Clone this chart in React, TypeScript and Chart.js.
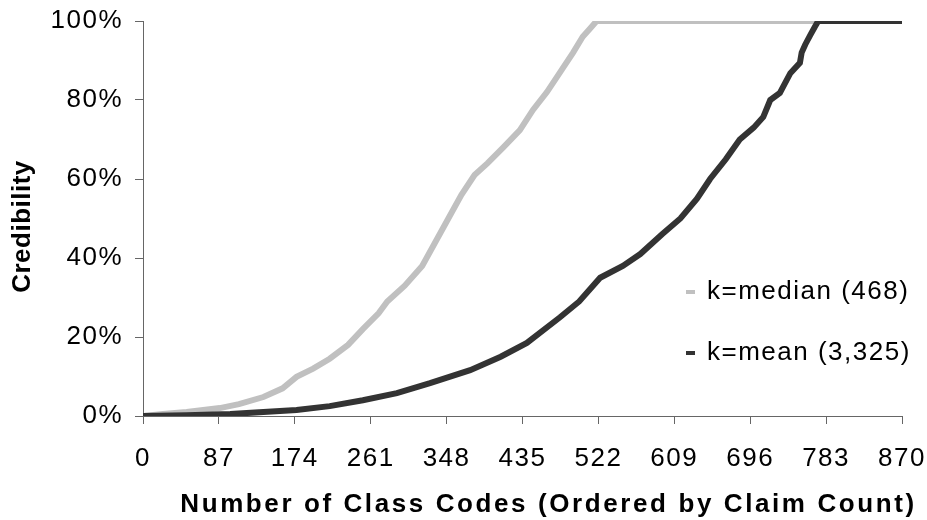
import React, { useEffect, useRef } from "react";
import { Chart, registerables } from "chart.js";

Chart.register(...registerables);

const seriesLabels = ["k=median (468)", "k=mean (3,325)"];
const seriesColors = ["#c0c0c0", "#333333"];

const medianX = [0, 23, 50, 88, 110, 138, 160, 176, 195, 214, 235, 252, 270, 280, 300, 320, 335, 350, 365, 380, 395, 413, 432, 447, 463, 478, 493, 504, 512, 520, 870];
const medianY = [0, 0.5, 1, 2, 3, 4.8, 7, 9.9, 12, 14.5, 18, 22, 26, 29, 33, 38, 44, 50, 56, 61, 64, 68, 72.4, 77.5, 82, 87, 92, 96, 98, 100, 100];

const meanX = [0, 50, 100, 138, 176, 214, 252, 291, 329, 375, 410, 440, 478, 500, 524, 550, 570, 595, 616, 635, 650, 668, 684, 700, 711, 719, 730, 742, 753, 755, 759, 765, 770, 774, 870];
const meanY = [0, 0.2, 0.5, 1, 1.5, 2.5, 4, 5.8, 8.3, 11.6, 15, 18.5, 25, 29, 35, 38, 41, 46, 50, 55, 60, 65, 70, 73, 75.7, 80, 81.8, 86.8, 89.4, 92, 94, 96.5, 98.5, 100, 100];

const xTickMin = 0;
const xTickMax = 870;
const xTickStep = 87;
const yTickMin = 0;
const yTickMax = 100;
const yTickStep = 20;

const xTitle = "Number of Class Codes (Ordered by Claim Count)";
const yTitle = "Credibility";

const FONT = "'Liberation Sans', Arial, Helvetica, sans-serif";

const toPoints = (xs: number[], ys: number[]) => xs.map((x, i) => ({ x, y: ys[i] }));

const spacingPlugin = {
  id: "spacing",
  beforeDraw(chart: any) {
    (chart.ctx as any).letterSpacing = "1.5px";
  },
};

const legendPlugin = {
  id: "customLegend",
  afterDraw(chart: any) {
    const ctx = chart.ctx;
    const area = chart.chartArea;
    ctx.save();
    (ctx as any).letterSpacing = "1.5px";
    ctx.font = `26px ${FONT}`;
    ctx.textBaseline = "middle";
    ctx.textAlign = "left";
    const rows = [area.top + 271, area.top + 332];
    seriesLabels.forEach((label, i) => {
      const y = rows[i];
      const x = area.left + 543;
      ctx.fillStyle = seriesColors[i];
      ctx.fillRect(x, y - 2, 9, 4);
      ctx.fillStyle = "#000000";
      ctx.fillText(label, x + 21, y);
    });
    // x axis title
    (ctx as any).letterSpacing = "2.6px";
    ctx.font = `bold 26px ${FONT}`;
    ctx.textAlign = "center";
    ctx.textBaseline = "middle";
    ctx.fillStyle = "#000000";
    ctx.fillText(xTitle, (area.left + area.right) / 2 + 26, 505);
    // y axis title
    (ctx as any).letterSpacing = "0.5px";
    ctx.translate(23, (area.top + area.bottom) / 2 + 8);
    ctx.rotate(-Math.PI / 2);
    ctx.fillText(yTitle, 0, 0);
    ctx.restore();
  },
};

const zeroPad = (scale: any) => {
  scale.paddingLeft = 0;
  scale.paddingRight = 0;
  scale.paddingTop = 0;
  scale.paddingBottom = 0;
};

export default function App() {
  const canvasRef = useRef<HTMLCanvasElement | null>(null);

  useEffect(() => {
    if (!canvasRef.current) return;
    const chart = new Chart(canvasRef.current, {
      type: "line",
      data: {
        datasets: [
          {
            label: seriesLabels[0],
            data: toPoints(medianX, medianY),
            borderColor: seriesColors[0],
            backgroundColor: seriesColors[0],
            borderWidth: 6,
            pointRadius: 0,
            tension: 0,
            fill: false,
            order: 1,
          },
          {
            label: seriesLabels[1],
            data: toPoints(meanX, meanY),
            borderColor: seriesColors[1],
            backgroundColor: seriesColors[1],
            borderWidth: 6,
            pointRadius: 0,
            tension: 0,
            fill: false,
            order: 0,
          },
        ],
      },
      options: {
        responsive: false,
        animation: false,
        events: [],
        layout: { padding: { top: 21, right: 25, left: 0, bottom: 0 } },
        plugins: {
          legend: { display: false },
          tooltip: { enabled: false },
          title: { display: false },
        },
        scales: {
          x: {
            type: "linear",
            min: xTickMin,
            max: xTickMax,
            afterFit: (scale: any) => {
              scale.height = 104;
              zeroPad(scale);
            },
            ticks: {
              stepSize: xTickStep,
              autoSkip: false,
              maxRotation: 0,
              color: "#000000",
              padding: 19,
              font: { family: FONT, size: 26 },
            },
            grid: {
              drawOnChartArea: false,
              drawTicks: true,
              tickLength: 8,
              color: "#666666",
            },
            border: { display: true, color: "#666666", width: 1 },
            title: { display: false },
          },
          y: {
            type: "linear",
            min: yTickMin,
            max: yTickMax,
            afterFit: (scale: any) => {
              scale.width = 143;
              zeroPad(scale);
            },
            ticks: {
              stepSize: yTickStep,
              color: "#000000",
              padding: 12,
              font: { family: FONT, size: 26 },
              callback: (v: any) => `${v}%`,
            },
            grid: {
              drawOnChartArea: false,
              drawTicks: true,
              tickLength: 8,
              color: "#666666",
            },
            border: { display: true, color: "#666666", width: 1 },
            title: { display: false },
          },
        },
      },
      plugins: [spacingPlugin, legendPlugin],
    } as any);
    return () => chart.destroy();
  }, []);

  return (
    <div style={{ position: "fixed", left: 0, top: 0, width: 927, height: 520, background: "#ffffff" }}>
      <canvas ref={canvasRef} width={927} height={520} style={{ display: "block", width: 927, height: 520 }} />
    </div>
  );
}
